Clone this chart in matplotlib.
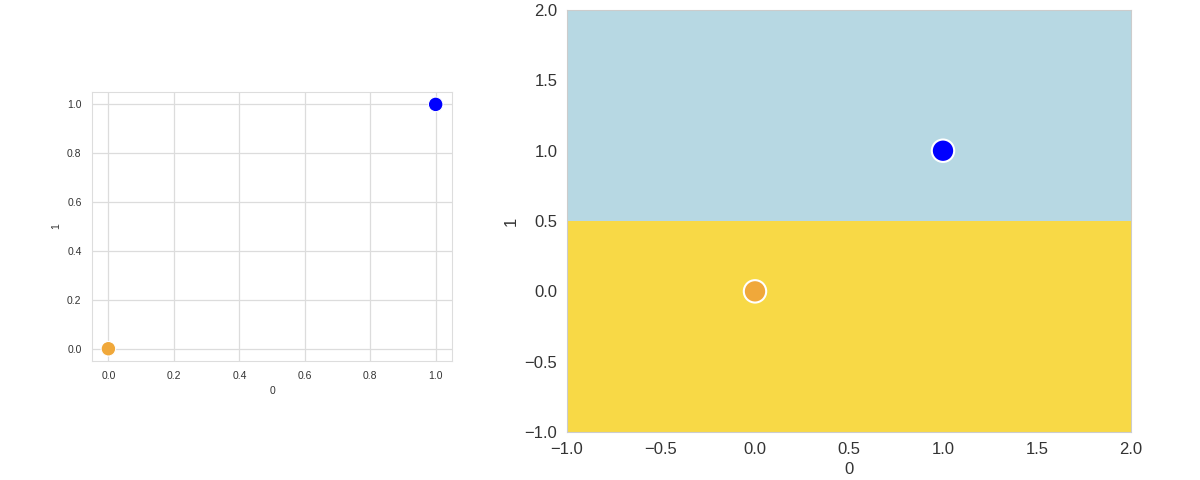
import matplotlib
matplotlib.use("Agg")
import matplotlib.pyplot as plt
from matplotlib.colors import ListedColormap
import numpy as np
import seaborn as sns

# two training points and their classes
x0 = [0.0, 1.0]
x1 = [0.0, 1.0]
labels = [0, 1]
point_colors = ["#f0a83a", "#0000ff"]

# decision regions on the right panel (class per horizontal band)
region_x_edges = [-1.0, 2.0]
region_y_edges = [-1.0, 0.5, 2.0]
region_class = [[0], [1]]
region_colors = ["#f8d946", "#b7d8e3"]

left_ticks = [0.0, 0.2, 0.4, 0.6, 0.8, 1.0]
right_ticks = [-1.0, -0.5, 0.0, 0.5, 1.0, 1.5, 2.0]

sns.set_style("whitegrid")
plt.rcParams["font.family"] = ["Liberation Sans", "DejaVu Sans"]

fig = plt.figure(figsize=(12, 4.8), dpi=100)

# left: plain scatter
ax1 = fig.add_axes([0.0767, 0.248, 0.3, 0.56])
ax1.scatter(x0, x1, c=[point_colors[k] for k in labels], s=110, edgecolors="white", linewidths=0.8, zorder=3)
ax1.set_xlim(-0.05, 1.05)
ax1.set_ylim(-0.05, 1.05)
ax1.set_xticks(left_ticks)
ax1.set_yticks(left_ticks)
ax1.grid(True, color="#dcdcdc", linewidth=0.9)
ax1.tick_params(labelsize=7.5, colors="#333333", pad=4)
ax1.set_xlabel("0", fontsize=7.5, color="#333333", labelpad=3)
ax1.set_ylabel("1", fontsize=7.5, color="#333333")
for sp in ax1.spines.values():
    sp.set_color("#dddddd")

# right: decision regions + points
ax2 = fig.add_axes([0.4725, 0.1, 0.47, 0.879])
ax2.pcolormesh(region_x_edges, region_y_edges, np.array(region_class),
               cmap=ListedColormap(region_colors), vmin=0, vmax=1, shading="flat")
ax2.scatter(x0, x1, c=[point_colors[k] for k in labels], s=260, edgecolors="white", linewidths=1.5, zorder=3)
ax2.set_xlim(-1, 2)
ax2.set_ylim(-1, 2)
ax2.set_xticks(right_ticks)
ax2.set_yticks(right_ticks)
ax2.grid(False)
ax2.tick_params(labelsize=12, colors="#333333")
ax2.set_xlabel("0", fontsize=12, color="#333333")
ax2.set_ylabel("1", fontsize=12, color="#333333")
for sp in ax2.spines.values():
    sp.set_color("#cccccc")

fig.savefig("out.png", dpi=100)
